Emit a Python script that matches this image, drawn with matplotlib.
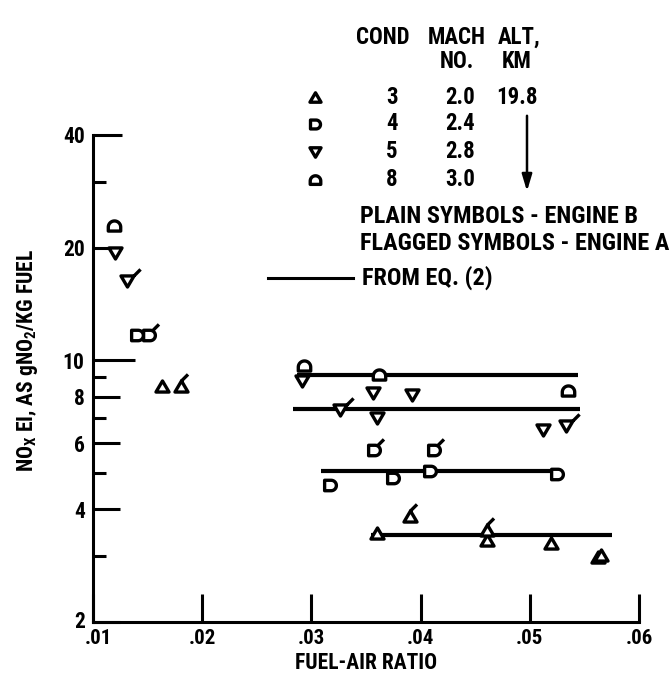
import numpy as np
import matplotlib
matplotlib.use('Agg')
import matplotlib.pyplot as plt
import matplotlib.transforms as mtransforms
from matplotlib.path import Path
from matplotlib.markers import MarkerStyle
from matplotlib.lines import Line2D
from matplotlib.patches import FancyArrowPatch

plt.rcParams['font.family'] = ['Roboto Condensed', 'Archivo Narrow', 'DejaVu Sans']
plt.rcParams['font.weight'] = 'black'
plt.rcParams['mathtext.fontset'] = 'custom'
plt.rcParams['mathtext.rm'] = 'Roboto Condensed:black'
plt.rcParams['mathtext.it'] = 'Roboto Condensed:black'
plt.rcParams['mathtext.bf'] = 'Roboto Condensed:black'

# NOx emission index vs fuel-air ratio, plain = engine B, flagged = engine A
cond3_far = [0.0163, 0.0360, 0.0461, 0.0519, 0.0562, 0.0565]
cond3_ei = [8.53, 3.45, 3.32, 3.25, 2.99, 3.02]
cond3a_far = [0.0181, 0.0390, 0.0461]
cond3a_ei = [8.53, 3.83, 3.52]

cond4_far = [0.0140, 0.0317, 0.0375, 0.0409, 0.0525]
cond4_ei = [11.7, 4.65, 4.85, 5.05, 4.98]
cond4a_far = [0.0151, 0.0357, 0.0412]
cond4a_ei = [11.7, 5.77, 5.77]

cond5_far = [0.0120, 0.0291, 0.0356, 0.0392, 0.0360, 0.0512]
cond5_ei = [19.4, 8.79, 8.19, 8.10, 7.02, 6.53]
cond5a_far = [0.0131, 0.0326, 0.0533]
cond5a_ei = [16.3, 7.39, 6.69]

cond8_far = [0.0119, 0.0293, 0.0362, 0.0535]
cond8_ei = [22.9, 9.65, 9.16, 8.27]

# eq. (2) correlation lines, one per condition (8, 5, 4, 3)
eq2_ei = [9.16, 7.42, 5.05, 3.42]
eq2_start = [0.0287, 0.0283, 0.0309, 0.0355]
eq2_end = [0.0544, 0.0546, 0.0521, 0.0575]

legend_cond = ['3', '4', '5', '8']
legend_mach = ['2.0', '2.4', '2.8', '3.0']

y_major = [2, 4, 6, 8, 10, 20, 40]
y_minor = [3, 5, 7, 9, 30]
x_major = [0.01, 0.02, 0.03, 0.04, 0.05, 0.06]
x_labels = ['.01', '.02', '.03', '.04', '.05', '.06']

W, H = 672, 683


def px(x):
    return x / W


def py(y):
    return 1 - y / H


def arc(cx, cy, r, a0, a1, n=20):
    t = np.radians(np.linspace(a0, a1, n))
    return list(zip(cx + r * np.cos(t), cy + r * np.sin(t)))


def outline(kind):
    if kind == 'up':
        return [(-1, -0.85), (1, -0.85), (0, 0.85)]
    if kind == 'down':
        return [(-1, 0.85), (1, 0.85), (0, -0.85)]
    if kind == 'd':
        return [(-0.9, 0.8), (-0.9, -0.8), (0.1, -0.8)] + arc(0.1, 0, 0.8, -90, 90) + [(-0.9, 0.8)]
    # dome
    return [(-0.95, -0.7), (0.95, -0.7), (0.95, -0.1)] + arc(0, -0.1, 0.95, 0, 180)


flag_from = {'up': (0, 0.85), 'down': (1, 0.85), 'd': (0.45, 0.7), 'dome': (0.6, 0.65)}


def make_marker(kind, flagged=False):
    pts = outline(kind)
    verts = pts + [pts[0]]
    codes = [Path.MOVETO] + [Path.LINETO] * (len(pts) - 1) + [Path.CLOSEPOLY]
    if flagged:
        fx, fy = flag_from[kind]
        verts += [(fx, fy), (fx + 1.0, fy + 1.0)]
        codes += [Path.MOVETO, Path.LINETO]
    verts = np.array(verts, dtype=float)
    rescale = np.max(np.abs(verts))
    return MarkerStyle(Path(verts, codes)), rescale


BASE_MS = 9.4
MEW = 2.4


def scatter(ax, x, y, kind, flagged=False):
    m, rescale = make_marker(kind, flagged)
    ax.plot(x, y, linestyle='none', marker=m, markersize=BASE_MS * rescale,
            mfc='white', mec='black', mew=MEW, zorder=4, clip_on=False)


fig = plt.figure(figsize=(W / 100, H / 100), dpi=100)
ax = fig.add_axes([px(93), 1 - 622 / H, 546 / W, 487 / H])
ax.set_yscale('log')
ax.set_xlim(0.01, 0.06)
ax.set_ylim(2, 40)

for e, x0, x1 in zip(eq2_ei, eq2_start, eq2_end):
    ax.plot([x0, x1], [e, e], color='black', lw=3.0, solid_capstyle='butt', zorder=2)

scatter(ax, cond3_far, cond3_ei, 'up')
scatter(ax, cond3a_far, cond3a_ei, 'up', flagged=True)
scatter(ax, cond4_far, cond4_ei, 'd')
scatter(ax, cond4a_far, cond4a_ei, 'd', flagged=True)
scatter(ax, cond5_far, cond5_ei, 'down')
scatter(ax, cond5a_far, cond5a_ei, 'down', flagged=True)
scatter(ax, cond8_far, cond8_ei, 'dome')

for s in ['top', 'right']:
    ax.spines[s].set_visible(False)
for s in ['left', 'bottom']:
    ax.spines[s].set_linewidth(2.2)

ax.set_xticks(x_major)
ax.set_xticklabels(x_labels)
ax.set_yticks(y_major)
ax.set_yticklabels([str(v) for v in y_major])
ax.set_yticks(y_minor, minor=True)
ax.set_yticklabels([], minor=True)
ax.xaxis.set_minor_locator(matplotlib.ticker.NullLocator())
ax.tick_params(axis='x', direction='in', length=20, width=2.2, pad=5, labelsize=15)
ax.tick_params(axis='y', which='major', direction='in', length=19.5, width=2.2, pad=6, labelsize=15.5)
ax.tick_params(axis='y', which='minor', direction='in', length=9.5, width=2.2)
for t, v in zip(ax.yaxis.get_major_ticks(), y_major):
    if v == 10:
        t.tick1line.set_markersize(30)
    elif v in (20, 40):
        t.tick1line.set_markersize(21)
for lab in ax.get_xticklabels() + ax.get_yticklabels():
    lab.set_fontweight('black')

# nudge the corner labels apart
first_x = ax.xaxis.get_major_ticks()[0].label1
first_x.set_transform(first_x.get_transform() + mtransforms.ScaledTranslation(5 / 100, 0, fig.dpi_scale_trans))
first_y = ax.yaxis.get_major_ticks()[0].label1
first_y.set_transform(first_y.get_transform() + mtransforms.ScaledTranslation(0, 3 / 100, fig.dpi_scale_trans))

fig.text(px(366), py(663), 'FUEL-AIR RATIO', ha='center', va='center', fontsize=15.5, fontweight='black')
fig.text(px(27), py(360), r'NO$_\mathrm{X}$ EI, AS gNO$_\mathrm{2}$/KG FUEL', rotation=90,
         ha='center', va='center', fontsize=15.5, fontweight='black')

# legend block
lg = dict(ha='center', va='center', fontsize=16.5, fontweight='black')
fig.text(px(383), py(37), 'COND', **lg)
fig.text(px(457), py(37), 'MACH', **lg)
fig.text(px(519), py(37), 'ALT,', **lg)
fig.text(px(457), py(62), 'NO.', **lg)
fig.text(px(517), py(62), 'KM', **lg)
fig.text(px(517), py(97), '19.8', **lg)

row_y = [97, 124, 152, 180]
kinds = ['up', 'd', 'down', 'dome']
for ry, k, c, m in zip(row_y, kinds, legend_cond, legend_mach):
    mk, rescale = make_marker(k)
    fig.add_artist(Line2D([px(315)], [py(ry)], linestyle='none', marker=mk,
                          markersize=BASE_MS * rescale * 0.85, mfc='white', mec='black', mew=MEW))
    fig.text(px(392), py(ry), c, **lg)
    fig.text(px(460), py(ry), m, **lg)

fig.add_artist(FancyArrowPatch(
    (px(527), py(113)), (px(527), py(194)), transform=fig.transFigure,
    arrowstyle='-|>,head_length=10,head_width=3', lw=1.8, color='black'))

fig.text(px(360), py(217), 'PLAIN SYMBOLS - ENGINE B', ha='left', va='center', fontsize=17.5, fontweight='black')
fig.text(px(360), py(244), 'FLAGGED SYMBOLS - ENGINE A', ha='left', va='center', fontsize=17.5, fontweight='black')
fig.add_artist(Line2D([px(268), px(353)], [py(278), py(278)], color='black', lw=2.2))
fig.text(px(362), py(278), 'FROM EQ. (2)', ha='left', va='center', fontsize=17.5, fontweight='black')

fig.savefig('out.png', dpi=100, facecolor='white')
